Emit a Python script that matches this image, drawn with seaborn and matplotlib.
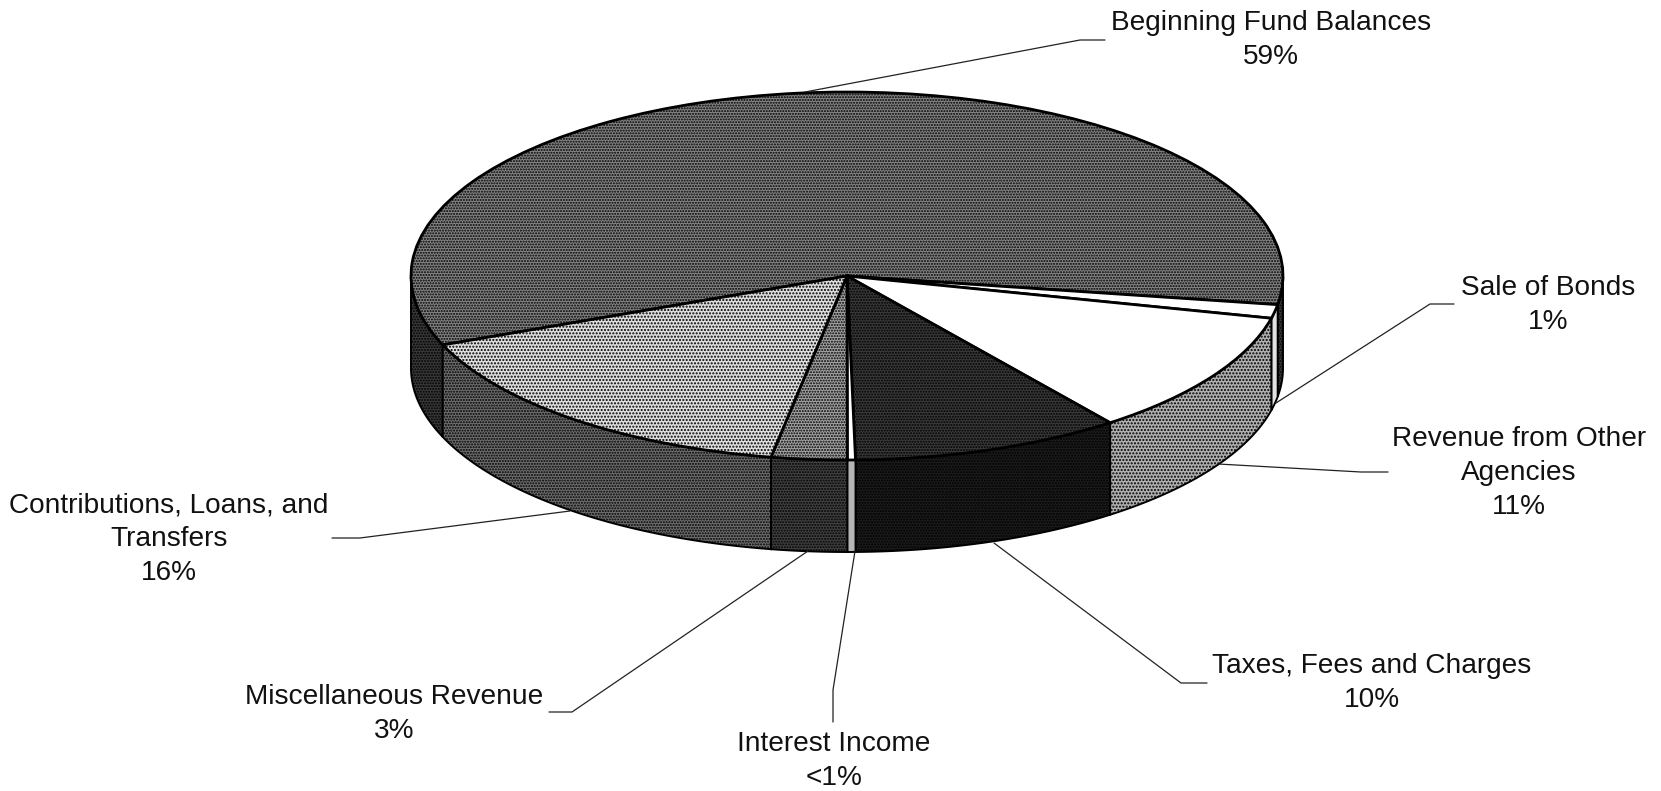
import numpy as np
import matplotlib
matplotlib.use("Agg")
import matplotlib.pyplot as plt
import seaborn as sns

# share of each slice (clockwise from the left edge of the big slice)
categories = ["Beginning Fund Balances", "Sale of Bonds", "Revenue from Other\nAgencies",
              "Taxes, Fees and Charges", "Interest Income", "Miscellaneous Revenue",
              "Contributions, Loans, and\nTransfers"]
shares = [58.6, 1.2, 11.0, 10.0, 0.3, 2.8, 16.1]
pct_labels = ["59%", "1%", "11%", "10%", "<1%", "3%", "16%"]

top_colors = ["#848484", "#ffffff", "#ffffff", "#3a3a3a", "#ffffff", "#a4a4a4", "#dedede"]
side_colors = ["#3a3a3a", "#e2e2e2", "#b0b0b0", "#1c1c1c", "#b6b6b6", "#424242", "#6e6e6e"]
top_hatch = ["......", None, None, "......", None, "......", "....."]
side_hatch = ["......", None, ".....", "......", None, "......", "......"]

W, H = 1661, 791
CX, CY, RX, RY = 847, 276, 436, 184
DEPTH = 92 / RY
START = 202

# label centre and leader line per slice, in image pixels
label_pos = [(1271, 40), (1548, 305), (1519, 473), (1372, 683), (834, 761), (394, 714), (169, 539)]
leaders = [
    [(805, 92), (1080, 40), (1105, 40)],
    [(1276, 403), (1430, 304), (1454, 304)],
    [(1218, 464), (1361, 472), (1388, 472)],
    [(994, 543), (1181, 683), (1207, 683)],
    [(855, 551), (833, 690), (833, 722)],
    [(808, 551), (572, 712), (549, 712)],
    [(570, 511), (360, 538), (332, 538)],
]

sns.set_theme(style="white")
plt.rcParams["font.family"] = ["Liberation Sans", "DejaVu Sans"]

fig = plt.figure(figsize=(W / 100, H / 100), dpi=100)
ax = fig.add_axes([0, 0, 1, 1])


def to_data(px, py):
    return (px - CX) / RX, (CY - py) / RY


# side wall, only the front half of the rim shows
edges = START - np.cumsum([0] + shares) / np.sum(shares) * 360
for a0, a1, col, hat in zip(edges[:-1], edges[1:], side_colors, side_hatch):
    for lo, hi in [(-180, 0), (180, 360)]:
        t0, t1 = max(a1, lo), min(a0, hi)
        if t1 <= t0:
            continue
        t = np.radians(np.linspace(t0, t1, 80))
        xs = np.concatenate([np.cos(t), np.cos(t)[::-1]])
        ys = np.concatenate([np.sin(t), np.sin(t)[::-1] - DEPTH])
        ax.fill(xs, ys, facecolor=col, edgecolor="black", linewidth=1.4, hatch=hat, zorder=1)

ax.pie(shares, colors=top_colors, startangle=START, counterclock=False, radius=1, hatch=top_hatch,
       wedgeprops=dict(edgecolor="black", linewidth=2, zorder=2))
ax.set_aspect("auto")
ax.set_xlim(to_data(0, 0)[0], to_data(W, 0)[0])
ax.set_ylim(to_data(0, H)[1], to_data(0, 0)[1])
ax.set_axis_off()

for name, pct, (lx, ly), line in zip(categories, pct_labels, label_pos, leaders):
    xy = np.array([to_data(*p) for p in line])
    ax.plot(xy[:, 0], xy[:, 1], color="#222222", linewidth=0.9, zorder=3)
    ax.text(*to_data(lx, ly), f"{name}\n{pct}", ha="center", va="center",
            fontsize=20.2, color="#111111", linespacing=1.4, zorder=4)

fig.savefig("out.png", dpi=100, facecolor="white")
